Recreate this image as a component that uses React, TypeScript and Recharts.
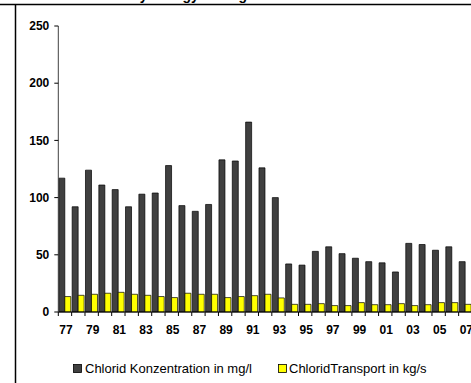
import React from 'react';
import { BarChart, Bar, XAxis, YAxis } from 'recharts';

// Jahre 1977 - 2007 (zweistellig)
const years = [
  '77', '78', '79', '80', '81', '82', '83', '84', '85', '86', '87',
  '88', '89', '90', '91', '92', '93', '94', '95', '96', '97', '98',
  '99', '00', '01', '02', '03', '04', '05', '06', '07',
];

const konzentration = [
  117, 92, 124, 111, 107, 92, 103, 104, 128, 93, 88,
  94, 133, 132, 166, 126, 100, 42, 41, 53, 57, 51,
  47, 44, 43, 35, 60, 59, 54, 57, 44,
];

const transport = [
  13.5, 14.6, 15.5, 16.4, 17.2, 15.5, 14.6, 13.5, 12.6, 16.4, 15.5,
  15.5, 12.6, 13.5, 14.3, 15.5, 12.3, 6.7, 6.7, 7.3, 5.6, 5.6,
  8.2, 6.4, 6.4, 7.3, 5.6, 6.4, 8.2, 8.2, 6.7,
];

const yTicks = [0, 50, 100, 150, 200, 250];
const seriesNames = ['Chlorid Konzentration in mg/l', 'ChloridTransport in kg/s'];
const seriesColors = ['#404040', '#ffff00'];
const title = 'Chloride Hydrology - Gauge Station';

const data = years.map((year, i) => ({
  year,
  konz: konzentration[i],
  trans: transport[i],
}));

const FONT = '"Liberation Sans", Arial, sans-serif';

// Excel-Stil: Teilstriche zwischen den Kategorien, Beschriftung jede zweite
const YearTick = (props: any) => {
  const { x, y, payload, index } = props;
  const half = payload && payload.offset ? payload.offset : 13.33 / 2;
  const axisY = y - 13;
  return (
    <g>
      <line x1={x - half} x2={x - half} y1={axisY} y2={axisY + 4} stroke="#000" strokeWidth={1} />
      {index % 2 === 0 && (
        <text
          x={x + 1}
          y={y}
          dy="0.71em"
          textAnchor="middle"
          fontFamily={FONT}
          fontSize={12}
          fontWeight="bold"
          fill="#000"
        >
          {payload.value}
        </text>
      )}
    </g>
  );
};

const App = () => {
  return (
    <div style={{ position: 'absolute', left: 0, top: 0, width: 471, height: 383, overflow: 'hidden', background: '#fff' }}>
      <BarChart
        width={472}
        height={383}
        data={data}
        margin={{ top: 26, right: 0, left: 0, bottom: 41 }}
        barGap={0}
        barCategoryGap={0.5}
      >
        <XAxis
          dataKey="year"
          interval={0}
          height={30}
          tickSize={4}
          tickMargin={9}
          tickLine={false}
          axisLine={{ stroke: '#000', strokeWidth: 1 }}
          tick={<YearTick />}
        />
        <YAxis
          width={58.3}
          domain={[0, 250]}
          ticks={yTicks}
          interval={0}
          tickSize={4}
          tickMargin={5}
          axisLine={{ stroke: '#404040', strokeWidth: 1 }}
          tickLine={{ stroke: '#000' }}
          tick={{ fontFamily: FONT, fontSize: 12, fontWeight: 'bold', fill: '#000' }}
        />
        <Bar dataKey="konz" fill={seriesColors[0]} stroke="#000" strokeWidth={0.7} isAnimationActive={false} />
        <Bar dataKey="trans" fill={seriesColors[1]} stroke="#000" strokeWidth={0.7} isAnimationActive={false} />
      </BarChart>
      <svg
        width={471}
        height={383}
        style={{ position: 'absolute', left: 0, top: 0, pointerEvents: 'none' }}
      >
        {/* Titel liegt oberhalb des Ausschnitts, nur Unterlängen sichtbar */}
        <text x={69} y={0.3} fontFamily={FONT} fontSize={14} fontWeight="bold" fill="#000">
          {title}
        </text>
        <line x1={0} x2={471} y1={4.5} y2={4.5} stroke="#000" strokeWidth={1.5} />
        <line x1={15.5} x2={15.5} y1={4} y2={383} stroke="#000" strokeWidth={1.5} />
        <rect x={73.5} y={364.5} width={8} height={8} fill={seriesColors[0]} stroke="#000" strokeWidth={0.8} />
        <text x={85} y={373} fontFamily={FONT} fontSize={13} fill="#000">
          {seriesNames[0]}
        </text>
        <rect x={278.5} y={364.5} width={8} height={8} fill={seriesColors[1]} stroke="#000" strokeWidth={0.8} />
        <text x={289} y={373} fontFamily={FONT} fontSize={13} fill="#000">
          {seriesNames[1]}
        </text>
      </svg>
    </div>
  );
};

export default App;
